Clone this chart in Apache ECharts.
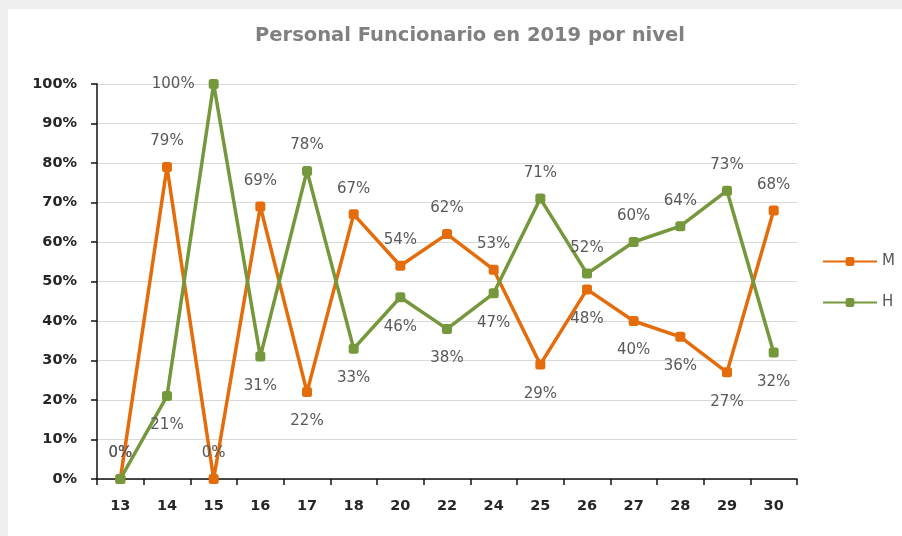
<!DOCTYPE html>
<html>
<head>
<meta charset="utf-8">
<script src="https://cdn.jsdelivr.net/npm/echarts@6/dist/echarts.min.js"></script>
<style>
  html, body { margin: 0; padding: 0; background: #efefef; }
  #chart { position: absolute; left: 8px; top: 9px; width: 894px; height: 527px; background: #fff; }
</style>
</head>
<body>
<div id="chart"></div>
<script>
const niveles = ['13', '14', '15', '16', '17', '18', '20', '22', '24', '25', '26', '27', '28', '29', '30']
const mujeres = [0, 79, 0, 69, 22, 67, 54, 62, 53, 29, 48, 40, 36, 27, 68]
const hombres = [0, 21, 100, 31, 78, 33, 46, 38, 47, 71, 52, 60, 64, 73, 32]

const FONT = 'DejaVu Sans, sans-serif'
const LBL = '#595959'
const NARANJA = '#e46c0a'
const VERDE = '#74983b'

// label goes on the side away from the other series (zeros sit above the axis)
function points(vals, other) {
  return vals.map((v, i) => {
    let position = (v >= other[i] || v === 0) ? 'top' : 'bottom'
    let distance = position === 'top' ? 13 : 17
    if (v === 100) { position = 'left'; distance = 14 }
    return { value: v, label: { position, distance } }
  })
}

const serie = (name, vals, other, color) => ({
  name, type: 'line', data: points(vals, other),
  symbol: 'roundRect', symbolSize: 10,
  lineStyle: { color, width: 3.5 },
  itemStyle: { color },
  label: { show: true, formatter: '{c}%', color: LBL, fontFamily: FONT, fontSize: 15 },
  z: name === 'H' ? 3 : 2,
})

const chart = echarts.init(document.getElementById('chart'), null, { renderer: 'canvas' })
chart.setOption({
  animation: false,
  textStyle: { fontFamily: FONT },
  title: {
    text: 'Personal Funcionario en 2019 por nivel',
    left: 457, top: 12, textAlign: 'center',
    textStyle: { color: '#808080', fontFamily: FONT, fontSize: 19.5, fontWeight: 'bold' },
  },
  grid: { left: 89, right: 105, top: 75, bottom: 57 },
  legend: {
    orient: 'vertical', left: 809, top: 240,
    itemWidth: 54, itemHeight: 11, itemGap: 26,
    textStyle: { color: LBL, fontFamily: FONT, fontSize: 15 },
    data: ['M', 'H'],
  },
  xAxis: {
    type: 'category', data: niveles, boundaryGap: true,
    axisLine: { lineStyle: { color: '#111', width: 1.5 } },
    axisTick: { show: true, alignWithLabel: false, length: 6, lineStyle: { color: '#111', width: 1.5 } },
    axisLabel: { color: '#262626', fontWeight: 'bold', fontSize: 14.5, fontFamily: FONT, margin: 20 },
  },
  yAxis: {
    type: 'value', min: 0, max: 100, interval: 10,
    axisLine: { show: true, lineStyle: { color: '#111', width: 1.5 } },
    axisTick: { show: true, length: 6, lineStyle: { color: '#111', width: 1.5 } },
    axisLabel: { formatter: '{value}%', color: '#262626', fontWeight: 'bold', fontSize: 14.5, fontFamily: FONT, margin: 20 },
    splitLine: { lineStyle: { color: '#d9d9d9', width: 1 } },
  },
  series: [
    serie('M', mujeres, hombres, NARANJA),
    serie('H', hombres, mujeres, VERDE),
  ],
})
</script>
</body>
</html>
